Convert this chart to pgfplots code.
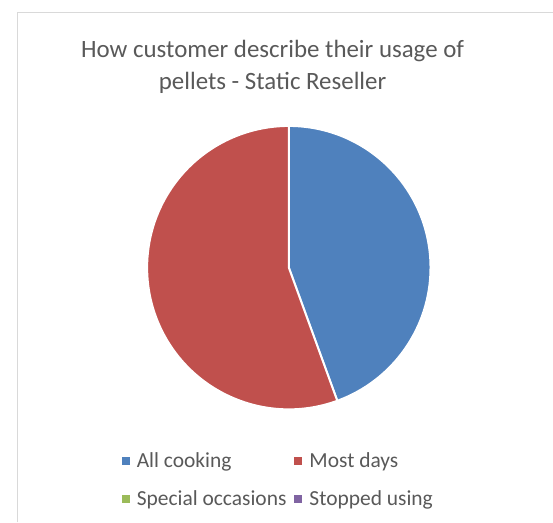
\documentclass[border=0pt]{standalone}
\usepackage{fontspec}
\setmainfont{Carlito}
\usepackage{pgfplots}
\usepackage{pgfplotstable}
\pgfplotsset{compat=1.18}

\definecolor{cBlue}{HTML}{4F81BD}
\definecolor{cRed}{HTML}{C0504D}
\definecolor{cGreen}{HTML}{9BBB59}
\definecolor{cPurple}{HTML}{8064A2}
\definecolor{txtgray}{HTML}{595959}
\definecolor{framegray}{HTML}{D9D9D9}

% share of customers per usage type
\pgfplotstableread{
label value
AllCooking 4
MostDays 5
SpecialOccasions 0
StoppedUsing 0
}\piedata

\begin{document}
\pgfplotstablegetelem{0}{value}\of\piedata\let\vA\pgfplotsretval
\pgfplotstablegetelem{1}{value}\of\piedata\let\vB\pgfplotsretval
\pgfplotstablegetelem{2}{value}\of\piedata\let\vC\pgfplotsretval
\pgfplotstablegetelem{3}{value}\of\piedata\let\vD\pgfplotsretval
\pgfmathsetmacro\tot{\vA+\vB+\vC+\vD}
\pgfmathsetmacro\aA{90}
\pgfmathsetmacro\aB{\aA-360*\vA/\tot}
\pgfmathsetmacro\aC{\aB-360*\vB/\tot}
\begin{tikzpicture}
\draw[framegray, line width=1.3pt] (8.5pt,-531pt) -- (8.5pt,-12.5pt) -- (553pt,-12.5pt);
\node[anchor=base, text=txtgray, font=\fontsize{25.3}{30}\selectfont] at (268pt,-58pt) {How customer describe their usage of};
\node[anchor=base, text=txtgray, font=\fontsize{25.3}{30}\selectfont] at (268pt,-91pt) {pellets - Static Reseller};
\begin{axis}[
  at={(284.5pt,-272pt)}, anchor=center,
  width=288pt, height=288pt, scale only axis,
  xmin=-1, xmax=1, ymin=-1, ymax=1,
  hide axis, clip=false,
  legend columns=2,
  legend image code/.code={\fill[#1] (0pt,-3.5pt) rectangle (7pt,3.5pt);},
  legend style={at={(rel axis cs:-0.09,-0.152)}, anchor=north west,
    draw=none, fill=none, text=txtgray,
    font=\fontsize{21.8}{26}\selectfont,
    row sep=22pt, inner sep=0pt, outer sep=0pt,
    nodes={inner sep=0pt},
    /tikz/every odd column/.append style={column sep=8pt},
    /tikz/every even column/.append style={column sep=8pt}},
  legend cell align=left,
]
\fill[cBlue, draw=white, line width=2pt] (axis cs:0,0) -- (axis cs:{cos(\aA)},{sin(\aA)}) arc[start angle=\aA, end angle=\aB, radius=144pt] -- cycle;
\fill[cRed, draw=white, line width=2pt] (axis cs:0,0) -- (axis cs:{cos(\aB)},{sin(\aB)}) arc[start angle=\aB, end angle=\aC, radius=144pt] -- cycle;
\addlegendimage{cBlue}\addlegendentry{All cooking}
\addlegendimage{cRed}\addlegendentry{Most days}
\addlegendimage{cGreen}\addlegendentry{Special occasions}
\addlegendimage{cPurple}\addlegendentry{Stopped using}
\end{axis}
\pgfresetboundingbox
\useasboundingbox (0,0) rectangle (553pt,-531pt);
\end{tikzpicture}
\end{document}
